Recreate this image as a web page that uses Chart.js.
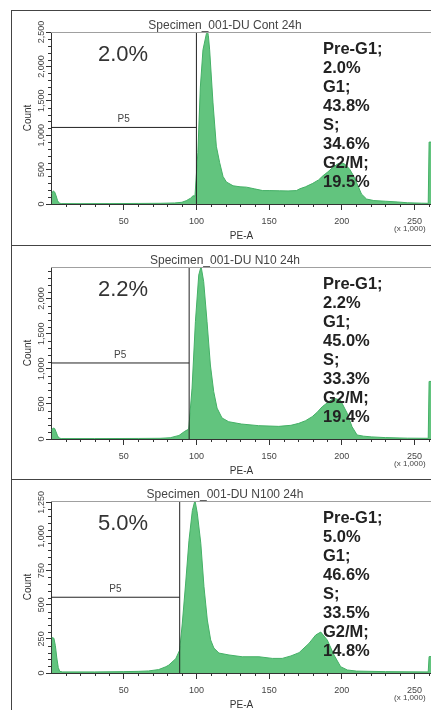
<!DOCTYPE html>
<html><head><meta charset="utf-8">
<script src="https://cdn.jsdelivr.net/npm/chart.js@4.4.1/dist/chart.umd.min.js"></script>
<style>
html,body{margin:0;padding:0;background:#fff;width:431px;height:710px;overflow:hidden;position:relative;}
.frame{position:absolute;left:11px;width:440px;border:1px solid #444;box-sizing:border-box;}
.wrap{position:absolute;left:0;width:445px;height:240px;}
canvas{display:block;}
</style></head><body>
<div class="frame" style="top:10px;height:236px"></div>
<div class="frame" style="top:245px;height:235px"></div>
<div class="frame" style="top:479px;height:240px"></div>
<div class="wrap" style="top:10px"><canvas id="c1" width="445" height="240"></canvas></div>
<div class="wrap" style="top:245px"><canvas id="c2" width="445" height="240"></canvas></div>
<div class="wrap" style="top:479px"><canvas id="c3" width="445" height="240"></canvas></div>
<script>
// ---------- data ----------
const titles = ['Specimen_001-DU Cont 24h', 'Specimen_001-DU N10 24h', 'Specimen_001-DU N100 24h'];
const preG1Labels = ['2.0%', '2.2%', '5.0%'];
const stats1 = ['Pre-G1;', '2.0%', 'G1;', '43.8%', 'S;', '34.6%', 'G2/M;', '19.5%'];
const stats2 = ['Pre-G1;', '2.2%', 'G1;', '45.0%', 'S;', '33.3%', 'G2/M;', '19.4%'];
const stats3 = ['Pre-G1;', '5.0%', 'G1;', '46.6%', 'S;', '33.5%', 'G2/M;', '14.8%'];

const xTickValues = [50, 100, 150, 200, 250];
const yTicks1 = [0, 500, 1000, 1500, 2000, 2500];
const yTicks2 = [0, 500, 1000, 1500, 2000];
const yTicks3 = [0, 250, 500, 750, 1000, 1250];
const yMax = [2500, 2450, 1260];

// gate P5: [x threshold (PE-A x1000), count level]
const gate1 = [100, 1113];
const gate2 = [95, 1083];
const gate3 = [88.5, 555];

// histogram 1 (Cont 24h)
const pe1 = [0.5,1.5,2.5,3.5,4.5,5.5,7,20,40,60,75,85,90,93,96,97.7,99,101,102.7,104.5,106.9,107.5,108.2,109.1,111.4,113.7,116,118.3,120.6,125.2,130,134.4,140,145.6,150,157.3,163,168.8,171,175,180,184,187,190,194,197,199.7,202,205.4,208,210,213.5,217,222,230,238,245,255,259.4,260,262];
const count1 = [150,190,175,120,50,15,6,5,6,8,10,15,25,48,85,120,115,750,1700,2240,2480,2520,2450,2240,1470,840,600,400,320,265,250,245,220,195,195,192,190,195,220,250,300,350,410,460,535,580,600,580,505,410,318,145,72,50,40,30,18,12,10,900,900];

// histogram 2 (N10 24h)
const pe2 = [0.5,1.5,2.5,3.5,4.5,5.5,7,30,60,75,82,86,88,92,94.7,97,99.3,101.6,103.2,105,107.3,109.6,111.9,114.2,117.6,122.2,131,142.8,156.6,165,170.4,175,179.6,183,186.5,191,194.5,199,203.6,207,210.5,215,220.6,230,245,259.4,260,262];
const count2 = [130,156,150,100,45,15,6,6,8,10,18,40,50,110,140,725,1670,2335,2460,2240,1670,1054,674,440,300,246,213,190,180,195,223,260,318,380,460,531,580,555,370,175,57,40,30,20,12,10,820,820];

// histogram 3 (N100 24h)
const pe3 = [0.5,2,3,4,5,6,8,30,50,60,67,74,79,81,85.8,88.5,90.3,92.6,94.9,97.2,99,100.6,103,105.2,107.5,109.8,112,115.5,122.4,131.5,143,152.2,159,165,170.6,177.4,182,185.5,190,194.6,199.2,203.8,210,230,259.4,260,262];
const count3 = [260,255,200,110,40,12,8,8,10,12,15,25,46,58,105,168,366,659,973,1190,1265,1171,951,632,388,242,183,146,132,119,119,107,107,125,149,217,278,300,241,132,46,22,14,10,8,120,120];

// ---------- drawing ----------
const FONT = '"Liberation Sans", Arial, sans-serif';
const FILL = 'rgb(98,196,126)';
const EDGE = 'rgb(68,176,102)';

const decor = {
  id: 'decor',
  afterDraw(chart) {
    const p = chart.options.plugins.decor;
    const {ctx, chartArea: a} = chart;
    const xs = chart.scales.x, ys = chart.scales.y;
    ctx.save();
    // top border of plot
    ctx.strokeStyle = '#a0a0a0'; ctx.lineWidth = 1;
    ctx.beginPath(); ctx.moveTo(a.left, a.top + 0.5); ctx.lineTo(a.right, a.top + 0.5); ctx.stroke();
    // minor ticks
    ctx.strokeStyle = '#333';
    ctx.beginPath();
    for (let v = p.xMinor; v < xs.max; v += p.xMinor) {
      if (v % 50 === 0) continue;
      const px = Math.round(xs.getPixelForValue(v)) + 0.5;
      ctx.moveTo(px, a.bottom); ctx.lineTo(px, a.bottom + 3);
    }
    for (let v = p.yMinor; v < ys.max; v += p.yMinor) {
      if (v % p.yMajor === 0) continue;
      const py = Math.round(ys.getPixelForValue(v)) + 0.5;
      ctx.moveTo(a.left - 3, py); ctx.lineTo(a.left, py);
    }
    ctx.stroke();
    // title
    ctx.fillStyle = '#444';
    ctx.font = '12px ' + FONT; ctx.textAlign = 'center'; ctx.textBaseline = 'middle';
    ctx.fillText(p.title, 225, a.top - 6);
    // pre-G1 percent
    ctx.fillStyle = '#333';
    ctx.font = '22px ' + FONT;
    ctx.fillText(p.pct, 123, a.top + 23);
    // P5 label
    ctx.font = '10px ' + FONT; ctx.fillStyle = '#444';
    const gx = (xs.getPixelForValue(0) + xs.getPixelForValue(p.gate[0])) / 2;
    ctx.fillText('P5', gx, ys.getPixelForValue(p.gate[1]) - 8);
    // stats
    ctx.fillStyle = '#222';
    ctx.font = 'bold 16.5px ' + FONT; ctx.textAlign = 'left';
    p.stats.forEach((s, i) => ctx.fillText(s, 323, a.top + 17 + i * 19));
    // multiplier
    ctx.font = '8px ' + FONT; ctx.fillStyle = '#444';
    ctx.fillText('(x 1,000)', 394, a.bottom + 25);
    ctx.restore();
  }
};

function makeChart(id, pe, counts, gate, yTicks, ymax, yMajor, yMinor, title, pct, stats) {
  const hist = pe.map((v, i) => ({x: v, y: counts[i]}));
  new Chart(document.getElementById(id), {
    type: 'line',
    data: {
      datasets: [
        {data: [{x: 0, y: gate[1]}, {x: gate[0], y: gate[1]}], borderColor: '#222', borderWidth: 1, pointRadius: 0, fill: false, order: 0},
        {data: [{x: gate[0], y: 0}, {x: gate[0], y: ymax}], borderColor: '#222', borderWidth: 1, pointRadius: 0, fill: false, order: 0},
        {data: hist, borderColor: EDGE, backgroundColor: FILL, borderWidth: 1, pointRadius: 0, fill: 'origin', tension: 0, order: 1}
      ]
    },
    options: {
      responsive: false, animation: false,
      layout: {padding: {left: 22, right: 13, top: 22, bottom: 8}},
      plugins: {legend: {display: false}, tooltip: {enabled: false}, title: {display: false},
        decor: {title, pct, stats, gate, xMinor: 10, yMinor, yMajor}},
      scales: {
        x: {
          type: 'linear', min: 0, max: 262,
          afterBuildTicks: s => { s.ticks = xTickValues.map(v => ({value: v})); },
          afterFit: s => { s.height = 38; },
          ticks: {autoSkip: false, maxRotation: 0, minRotation: 0, padding: 6, color: '#444', font: {family: FONT, size: 9},
            callback: v => String(v)},
          grid: {drawOnChartArea: false, drawTicks: true, tickLength: 6, tickColor: '#333', color: '#333'},
          border: {display: true, color: '#333', width: 1},
          title: {display: true, text: 'PE-A', color: '#333', font: {family: FONT, size: 10}, padding: {top: 0, bottom: 0}}
        },
        y: {
          type: 'linear', min: 0, max: ymax,
          afterBuildTicks: s => { s.ticks = yTicks.map(v => ({value: v})); },
          afterFit: s => { s.width = 29; },
          ticks: {autoSkip: false, minRotation: 90, maxRotation: 90, crossAlign: 'center', padding: -7, color: '#444',
            font: {family: FONT, size: 9}, callback: v => Number(v).toLocaleString('en-US')},
          grid: {drawOnChartArea: false, drawTicks: true, tickLength: 5, tickColor: '#333', color: '#333'},
          border: {display: true, color: '#333', width: 1},
          title: {display: true, text: 'Count', color: '#333', font: {family: FONT, size: 10}, padding: {top: 0, bottom: 0}}
        }
      }
    },
    plugins: [decor]
  });
}

makeChart('c1', pe1, count1, gate1, yTicks1, yMax[0], 500, 100, titles[0], preG1Labels[0], stats1);
makeChart('c2', pe2, count2, gate2, yTicks2, yMax[1], 500, 100, titles[1], preG1Labels[1], stats2);
makeChart('c3', pe3, count3, gate3, yTicks3, yMax[2], 250, 50, titles[2], preG1Labels[2], stats3);
</script>
</body></html>
